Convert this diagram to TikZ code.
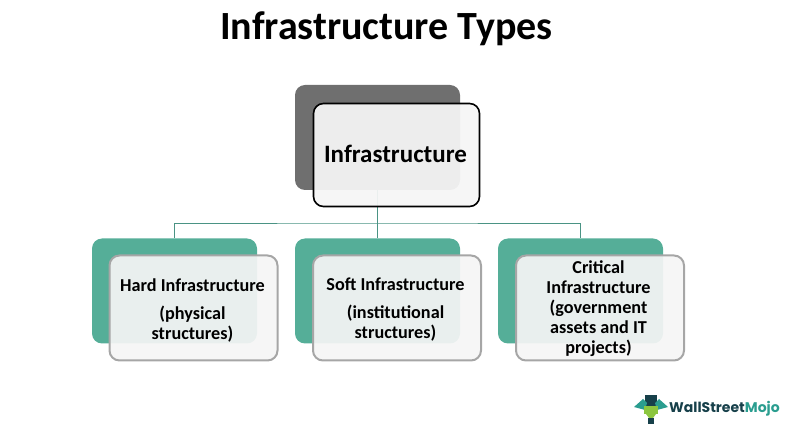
\documentclass[tikz,border=0pt]{standalone}
\usepackage{fontspec}
\setmainfont{Carlito}
\newfontfamily\logofont{Poppins}
\definecolor{tealbox}{HTML}{55AE98}
\definecolor{darkbox}{HTML}{6F6F6F}
\definecolor{conn}{HTML}{4A9384}
\definecolor{logodark}{HTML}{17404A}
\definecolor{logoteal}{HTML}{2A9D8F}
\definecolor{logogreen}{HTML}{8CC63F}
\definecolor{panel}{HTML}{F5F5F5}
\tikzset{
  x=1pt,y=-1pt,
  backbox/.style={rounded corners=10pt,minimum width=165pt,minimum height=105pt,inner sep=0pt,draw=none},
  rootfront/.style={rounded corners=10pt,minimum width=166pt,minimum height=103pt,inner sep=0pt,draw=black,line width=1.6pt,fill=panel,fill opacity=.94,draw opacity=1,text opacity=1},
  childfront/.style={rounded corners=10pt,minimum width=168pt,minimum height=105pt,inner sep=0pt,draw=black!35,line width=2pt,fill=panel,fill opacity=.93,draw opacity=1,text opacity=1},
  childtext/.style={inner sep=0pt,align=center,font=\bfseries\fontsize{18.2}{20}\selectfont},
  link/.style={draw=conn,line width=.9pt},
}
\begin{document}
\begin{tikzpicture}
\useasboundingbox (0,0) rectangle (785,430);
\node[font=\bfseries\fontsize{40}{44}\selectfont,inner sep=0pt,anchor=base] (title) at (386.5,40) {Infrastructure Types};
% back plates
\node[backbox,fill=darkbox] (rootback) at (377.5,137.5) {};
\node[backbox,fill=tealbox] (hardback) at (174.5,291) {};
\node[backbox,fill=tealbox] (softback) at (377.5,291) {};
\node[backbox,fill=tealbox] (critback) at (580.5,291) {};
% connectors
\coordinate (bus) at (377.5,223);
\draw[link] (rootback.south) -- (softback.north);
\draw[link] (hardback.north) |- (bus) -| (critback.north);
% front panels
\node[rootfront] (root) at (396.5,155) {};
\node[inner sep=0pt,font=\bfseries\fontsize{25}{28}\selectfont] (roottext) at (395.5,154) {Infrastructure};
\node[childfront] (hard) at (193.5,308) {};
\node[childfront] (soft) at (397,308) {};
\node[childfront] (crit) at (600,308) {};
\node[childtext] (hardtext) at (192.5,310) {Hard Infrastructure\\[8pt](physical\\structures)};
\node[childtext] (softtext) at (395.5,310) {Soft Infrastructure\\[8pt](institutional\\structures)};
\node[childtext] (crittext) at (598.5,309) {Critical\\Infrastructure\\(government\\assets and IT\\projects)};
% logo
\fill[logodark] (645,395) rectangle (657,404);
\fill[logodark] (642,404) rectangle (660,406.5);
\fill[logoteal] (634,407) -- (643,399) -- (647,403) -- (645,410) -- cycle;
\fill[logoteal] (668,407) -- (659,399) -- (655,403) -- (657,410) -- cycle;
\fill[logogreen] (644,406.5) rectangle (658,414);
\fill[logogreen] (646,414) -- (656,414) -- (653,418) -- (649,418) -- cycle;
\fill[logodark] (648,418) rectangle (654,424);
\node[anchor=west,inner sep=0pt,font=\logofont\bfseries\fontsize{14}{16}\selectfont] (logo) at (669,408.5) {\textcolor{logodark}{WallStreet}\textcolor{logoteal}{Mojo}};
\end{tikzpicture}
\end{document}
